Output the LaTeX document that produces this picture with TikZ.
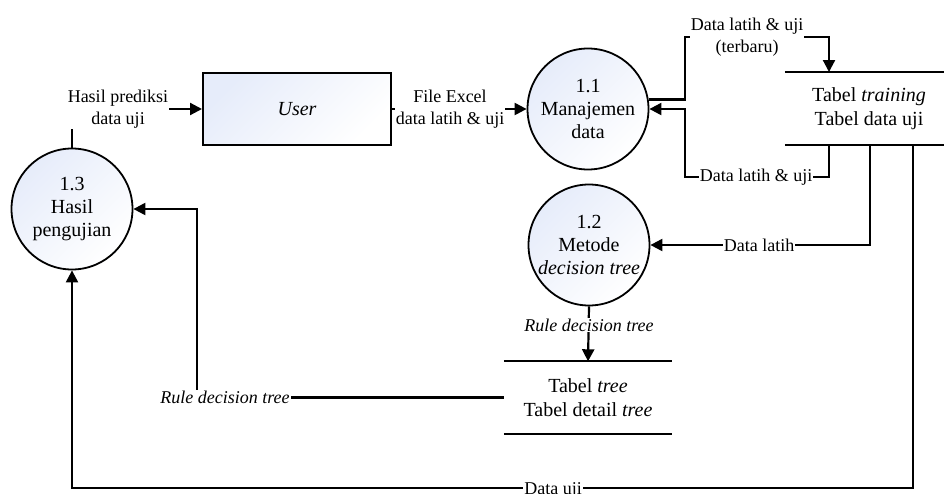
\documentclass[tikz,border=0pt]{standalone}
\usepackage{fontspec}
\setmainfont{Liberation Serif}
\usetikzlibrary{arrows.meta}
\definecolor{procfill}{RGB}{230,236,250}
\begin{document}
\begin{tikzpicture}[x=1pt,y=-1pt,
  proc/.style={circle,draw,line width=1.8pt,minimum size=121pt,inner sep=0pt,
    align=center,top color=procfill,bottom color=white,shading angle=45,
    font=\fontsize{20}{23}\selectfont},
  ext/.style={rectangle,draw,line width=2pt,minimum width=188pt,minimum height=72pt,
    top color=procfill,bottom color=white,shading angle=45,
    font=\fontsize{20}{23}\selectfont\itshape},
  store/.style={align=center,inner sep=0pt,font=\fontsize{20}{24}\selectfont},
  storeline/.style={line width=2.2pt},
  flow/.style={line width=2.2pt,-{Triangle[length=12pt,width=12pt]}},
  lbl/.style={fill=white,inner sep=1pt,align=center,font=\fontsize{18}{21.5}\selectfont},
]
\useasboundingbox (0,0) rectangle (944,493);

% processes and external entity
\node[ext]  (user) at (297,109) {User};
\node[proc] (p11)  at (588,109) {1.1\\Manajemen\\data};
\node[proc] (p12)  at (589,245) {1.2\\Metode\\\textit{decision tree}};
\node[proc] (p13)  at (72,209)  {1.3\\Hasil\\pengujian};

% data stores
\node[store,minimum width=168pt,minimum height=73pt] (ds1) at (869,108.5)
  {Tabel \textit{training}\\Tabel data uji};
\draw[storeline] (ds1.north west) -- (ds1.north east);
\draw[storeline] (ds1.south west) -- (ds1.south east);

\node[store,minimum width=168pt,minimum height=72pt] (ds2) at (588,397.5)
  {Tabel \textit{tree}\\Tabel detail \textit{tree}};
\draw[storeline] (ds2.north west) -- (ds2.north east);
\draw[storeline] (ds2.south west) -- (ds2.south east);

% attachment points on the stores
\coordinate (inA)   at (829,72);
\coordinate (outA)  at (829,145);
\coordinate (outB)  at (870,145);
\coordinate (outC)  at (913,145);

% data flows
\draw[flow] (user.east) -- (p11.west);
\draw[flow] (p13.north) |- (user.west);
\draw[flow] (p11.9.6) -| (685,37) -| (inA);
\draw[flow] (outA) |- (685,177) |- (p11.east);
\draw[flow] (outB) |- (p12.east);
\draw[flow] (outC) |- (72,488) -- (p13.south);
\draw[flow] (p12.south) -- (ds2.north);
\draw[flow] (ds2.west) -| (197,209) -- (p13.east);

% flow labels
\node[lbl] (l1) at (450,109) {File Excel\\data latih \& uji};
\node[lbl] (l2) at (118,109) {Hasil prediksi\\data uji};
\node[lbl] (l3) at (747,37)  {Data latih \& uji\\(terbaru)};
\node[lbl] (l4) at (756,177) {Data latih \& uji};
\node[lbl] (l5) at (759,245) {Data latih};
\node[lbl,anchor=base] (l6) at (553,494) {Data uji};
\node[lbl,font=\fontsize{18}{21.5}\selectfont\itshape] (l7) at (589,325) {Rule decision tree};
\node[lbl,font=\fontsize{18}{21.5}\selectfont\itshape] (l8) at (225,397) {Rule decision tree};
\end{tikzpicture}
\end{document}
